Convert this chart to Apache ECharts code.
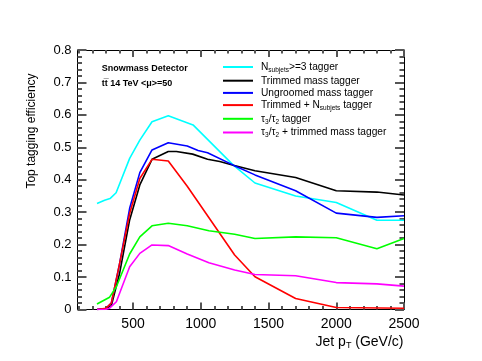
<!DOCTYPE html>
<html>
<head>
<meta charset="utf-8">
<script src="https://cdn.jsdelivr.net/npm/echarts@6/dist/echarts.min.js"></script>
<style>
html,body{margin:0;padding:0;background:#fff;}
#chart{width:482px;height:361px;}
</style>
</head>
<body>
<div id="chart"></div>
<script>
// ---- data ----
const seriesNames = ['Nsubjets>=3 tagger', 'Trimmed mass tagger', 'Ungroomed mass tagger', 'Trimmed + Nsubjets tagger', 'tau3/tau2 tagger', 'tau3/tau2 + trimmed mass tagger'];
const seriesColors = ['#00ffff', '#000000', '#0000ff', '#ff0000', '#00ff00', '#ff00ff'];

const ptNsub  = [234, 290, 330, 375, 475, 550, 640, 760, 943, 1240, 1400, 1700, 2000, 2300, 2500];
const effNsub = [0.327, 0.337, 0.342, 0.360, 0.466, 0.522, 0.579, 0.597, 0.569, 0.445, 0.390, 0.350, 0.330, 0.275, 0.275];

const ptTrim  = [234, 300, 340, 400, 475, 550, 640, 760, 820, 940, 1050, 1140, 1240, 1400, 1700, 2000, 2300, 2500];
const effTrim = [0.000, 0.003, 0.012, 0.110, 0.276, 0.384, 0.463, 0.487, 0.487, 0.479, 0.463, 0.456, 0.445, 0.428, 0.407, 0.366, 0.362, 0.353];

const ptUngr  = [234, 300, 340, 400, 475, 550, 640, 760, 900, 980, 1050, 1240, 1400, 1700, 2000, 2300, 2500];
const effUngr = [0.000, 0.003, 0.020, 0.140, 0.312, 0.422, 0.492, 0.514, 0.504, 0.490, 0.483, 0.445, 0.415, 0.366, 0.297, 0.284, 0.289];

const ptTrimN  = [234, 300, 340, 400, 475, 550, 640, 760, 900, 1250, 1400, 1700, 2000, 2500];
const effTrimN = [0.000, 0.004, 0.020, 0.140, 0.296, 0.404, 0.463, 0.458, 0.380, 0.168, 0.101, 0.034, 0.006, 0.004];

const ptTau  = [234, 327, 377, 475, 550, 640, 760, 900, 1060, 1250, 1400, 1700, 2000, 2300, 2500];
const effTau = [0.017, 0.038, 0.070, 0.171, 0.224, 0.258, 0.266, 0.258, 0.243, 0.232, 0.219, 0.224, 0.221, 0.187, 0.219];

const ptTauTrim  = [234, 300, 327, 377, 475, 550, 640, 760, 900, 1060, 1250, 1400, 1700, 2000, 2300, 2500];
const effTauTrim = [0.000, 0.001, 0.004, 0.024, 0.132, 0.173, 0.199, 0.197, 0.171, 0.144, 0.122, 0.108, 0.104, 0.083, 0.079, 0.072];

const xMajorTicks = [500, 1000, 1500, 2000, 2500];
const xMinorTicks = [100, 200, 300, 400, 500, 600, 700, 800, 900, 1000, 1100, 1200, 1300, 1400, 1500, 1600, 1700, 1800, 1900, 2000, 2100, 2200, 2300, 2400, 2500];
const yTickLabels = [0, 0.1, 0.2, 0.3, 0.4, 0.5, 0.6, 0.7, 0.8];

// ---- build ----
const FONT = "'Liberation Sans', Arial, Helvetica, sans-serif";
function zip(xs, ys) { return xs.map((x, i) => [x, ys[i]]); }
const allPt = [ptNsub, ptTrim, ptUngr, ptTrimN, ptTau, ptTauTrim];
const allEff = [effNsub, effTrim, effUngr, effTrimN, effTau, effTauTrim];

const legendRich = {
  '0': '{a|N}{s|subjets}{a|>=3 tagger}',
  '1': '{a|Trimmed mass tagger}',
  '2': '{a|Ungroomed mass tagger}',
  '3': '{a|Trimmed + N}{s|subjets}{a| tagger}',
  '4': '{a|\u03c4}{s|3}{a|/\u03c4}{s|2}{a| tagger}',
  '5': '{a|\u03c4}{s|3}{a|/\u03c4}{s|2}{a| + trimmed mass tagger}'
};

const series = seriesNames.map((n, i) => ({
  name: n,
  type: 'line',
  xAxisIndex: 0, yAxisIndex: 0,
  data: zip(allPt[i], allEff[i]),
  showSymbol: false,
  symbol: 'none',
  lineStyle: { color: seriesColors[i], width: 1.6 },
  itemStyle: { color: seriesColors[i] },
  animation: false,
  z: 2
}));

const XMIN = 90, XMAX = 2500, YMIN = 0, YMAX = 0.8;
const lineSt = () => ({ color: '#000', width: 1 });
const tickSt = () => ({ color: '#555', width: 2 });
const no = () => ({ show: false });
const fmtX = v => String(Math.round(v));

function xLineAxis(pos, withLabels) {
  return { type: 'value', min: XMIN, max: XMAX, position: pos,
    axisLine: { show: true, onZero: false, lineStyle: lineSt() }, axisTick: no(), splitLine: no(), minorTick: no(),
    axisLabel: withLabels ? { show: true, customValues: xMajorTicks, formatter: fmtX, fontSize: 14, fontFamily: FONT, color: '#000', margin: 8 } : no() };
}
function xTickAxis(pos, len, values) {
  return { type: 'value', min: XMIN, max: XMAX, position: pos,
    axisLine: { show: false, onZero: false }, axisLabel: no(), splitLine: no(), minorTick: no(),
    axisTick: { show: true, inside: true, length: len, customValues: values, lineStyle: tickSt() } };
}
function yLineAxis(pos, withLabels) {
  return { type: 'value', min: YMIN, max: YMAX, interval: 0.1, position: pos,
    axisLine: { show: true, onZero: false, lineStyle: lineSt() }, axisTick: no(), splitLine: no(), minorTick: no(),
    axisLabel: withLabels ? { show: true, fontSize: 13, fontFamily: FONT, color: '#000', margin: 6,
      formatter: v => { const t = yTickLabels.find(l => Math.abs(l - v) < 1e-6); return t === undefined ? '' : String(t); } } : no() };
}
function yTickAxis(pos, len, step) {
  return { type: 'value', min: YMIN, max: YMAX, interval: step, position: pos,
    axisLine: { show: false, onZero: false }, axisLabel: no(), splitLine: no(), minorTick: no(),
    axisTick: { show: true, inside: true, length: len, lineStyle: tickSt() } };
}

const option = {
  backgroundColor: '#fff',
  animation: false,
  grid: { left: 77.5, right: 78, top: 50, bottom: 51.5 },
  xAxis: [
    xLineAxis('bottom', true),
    xTickAxis('bottom', 7, xMajorTicks),
    xTickAxis('bottom', 3.5, xMinorTicks),
    xLineAxis('top', false),
    xTickAxis('top', 7, xMajorTicks),
    xTickAxis('top', 3.5, xMinorTicks)
  ],
  yAxis: [
    yLineAxis('left', true),
    yTickAxis('left', 9, 0.1),
    yTickAxis('left', 4.5, 0.02),
    yLineAxis('right', false),
    yTickAxis('right', 9, 0.1),
    yTickAxis('right', 4.5, 0.02)
  ],
  legend: {
    orient: 'vertical',
    left: 223, top: 62,
    padding: 0,
    itemGap: 2.2,
    itemWidth: 30, itemHeight: 2,
    icon: 'rect',
    selectedMode: false,
    data: seriesNames.map((n, i) => ({ name: n, itemStyle: { color: seriesColors[i] } })),
    formatter: name => legendRich[String(seriesNames.indexOf(name))],
    textStyle: {
      fontFamily: FONT, fontSize: 10.2, color: '#000', padding: [0, 0, 0, 3],
      rich: {
        a: { fontFamily: FONT, fontSize: 10.2, color: '#000', lineHeight: 13, verticalAlign: 'middle' },
        s: { fontFamily: FONT, fontSize: 6.5, color: '#000', lineHeight: 6, verticalAlign: 'bottom' }
      }
    }
  },
  graphic: [
    { type: 'text', left: 101.7, top: 64.5, silent: true,
      style: { text: 'Snowmass Detector', font: "bold 9px 'Liberation Sans', Arial, sans-serif", fill: '#000' } },
    { type: 'text', left: 101.7, top: 79, silent: true,
      style: { text: 'tt\u0305 14 TeV <\u03bc>=50', font: "bold 9px 'Liberation Sans', Arial, sans-serif", fill: '#000' } },
    { type: 'text', x: 31.7, y: 131, rotation: Math.PI / 2, silent: true,
      style: { text: 'Top tagging efficiency', font: "12px 'Liberation Sans', Arial, sans-serif", fill: '#000', align: 'center', verticalAlign: 'middle' } },
    { type: 'text', x: 403.5, y: 342, silent: true,
      style: { text: '{a|Jet p}{s|T}{a| (GeV/c)}', align: 'right', verticalAlign: 'middle',
        rich: {
          a: { fontFamily: FONT, fontSize: 14, fill: '#000', lineHeight: 16, verticalAlign: 'middle' },
          s: { fontFamily: FONT, fontSize: 9, fill: '#000', lineHeight: 8, verticalAlign: 'bottom' }
        } } }
  ],
  series: series
};

const chart = echarts.init(document.getElementById('chart'), null, { renderer: 'canvas' });
chart.setOption(option);
</script>
</body>
</html>
